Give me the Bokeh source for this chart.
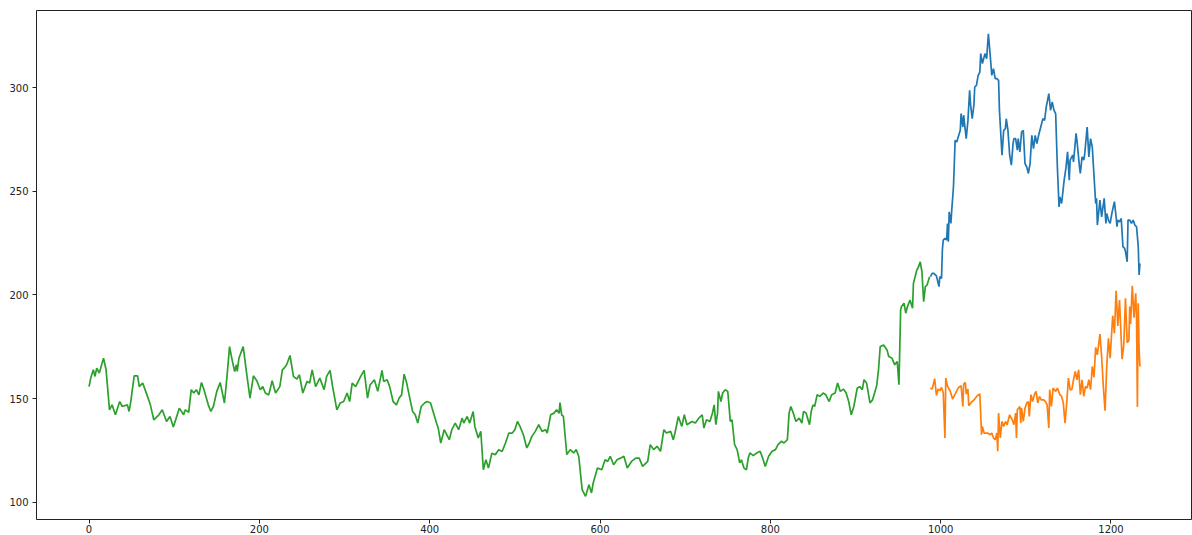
from bokeh.plotting import figure
from bokeh.models import Range1d, FixedTicker
from bokeh.embed import file_html
from bokeh.resources import INLINE

# Closing price used for training (day index, close)
train_idx = [0, 2, 5, 7, 9, 12, 17, 20, 24, 27, 31, 36, 39, 45, 47, 49, 53, 57, 59, 63,
             68, 72, 76, 82, 86, 91, 95, 99, 106, 111, 113, 117, 120, 123, 126, 129, 132, 135, 140, 143,
             146, 150, 154, 159, 162, 165, 168, 171, 173, 174, 176, 181, 183, 185, 189, 193, 197, 201, 204, 207,
             211, 215, 219, 224, 227, 229, 232, 236, 240, 244, 247, 251, 256, 259, 262, 266, 271, 276, 279, 283,
             286, 291, 295, 299, 303, 306, 309, 313, 319, 323, 327, 330, 335, 339, 344, 346, 350, 353, 357, 361,
             364, 367, 370, 373, 377, 380, 383, 386, 390, 394, 397, 401, 404, 408, 410, 413, 417, 420, 423, 426,
             430, 434, 438, 440, 444, 447, 451, 453, 457, 460, 463, 466, 469, 473, 477, 481, 485, 489, 493, 497,
             500, 503, 506, 510, 514, 517, 520, 524, 528, 532, 536, 538, 542, 546, 549, 552, 553, 555, 557, 561,
             565, 569, 572, 575, 579, 583, 587, 590, 592, 597, 602, 606, 609, 612, 616, 620, 624, 628, 632, 637,
             642, 646, 650, 656, 659, 663, 667, 671, 675, 678, 683, 686, 688, 692, 696, 699, 702, 708, 712, 716,
             720, 722, 725, 729, 732, 734, 736, 738, 739, 742, 744, 747, 750, 753, 755, 758, 761, 764, 766, 769,
             772, 774, 776, 780, 784, 788, 791, 794, 798, 802, 806, 809, 813, 816, 820, 822, 824, 827, 830, 834,
             837, 839, 842, 846, 848, 850, 852, 855, 858, 862, 865, 869, 872, 876, 879, 882, 886, 889, 892, 895,
             898, 902, 905, 908, 910, 913, 917, 920, 923, 925, 927, 929, 933, 937, 939, 943, 946, 949, 951, 953,
             954, 957, 959, 961, 964, 967, 968, 970, 972, 974, 976, 978, 980, 982, 984, 987]
train_close = [155.8, 159.9, 163.9, 160.7, 164.7, 162.3, 169.5, 163.9, 144.6, 147.0, 142.2, 148.6, 146.2, 147.0, 143.8, 148.6, 161.0, 161.0, 155.8, 157.5,
               151.8, 147.0, 139.8, 142.2, 144.6, 139.0, 141.4, 136.3, 145.4, 142.2, 144.6, 143.4, 154.3, 152.7, 154.3, 151.8, 157.8, 154.3, 147.0, 143.8,
               146.2, 153.5, 157.8, 147.9, 160.7, 175.1, 168.7, 163.1, 166.3, 163.1, 169.5, 175.1, 168.7, 162.3, 150.2, 161.0, 158.6, 154.3, 155.8, 152.7,
               151.8, 158.6, 152.7, 155.8, 163.9, 164.7, 166.3, 170.8, 160.7, 159.4, 161.5, 152.7, 158.3, 157.5, 163.9, 155.8, 159.9, 154.3, 160.7, 163.6,
               155.8, 144.6, 147.9, 148.6, 152.7, 148.6, 157.5, 155.8, 160.7, 163.6, 150.2, 156.6, 159.1, 153.5, 163.6, 158.3, 159.1, 155.8, 148.6, 147.0,
               150.2, 151.8, 161.8, 157.5, 149.4, 143.8, 142.2, 138.2, 146.2, 147.9, 148.6, 147.9, 143.8, 138.2, 135.8, 128.6, 135.0, 132.6, 130.2, 135.0,
               138.2, 135.0, 140.6, 138.2, 141.4, 138.2, 143.8, 136.6, 131.0, 134.2, 115.7, 120.5, 116.5, 123.7, 122.9, 125.3, 124.5, 128.6, 133.4, 133.4,
               135.0, 139.0, 136.6, 132.6, 126.2, 128.6, 131.8, 134.2, 137.4, 134.2, 135.0, 133.4, 142.2, 143.0, 144.6, 143.0, 148.1, 142.2, 141.4, 123.0,
               125.4, 123.8, 125.4, 122.2, 106.1, 102.9, 108.5, 104.5, 109.3, 116.5, 115.7, 120.5, 119.7, 122.2, 118.1, 120.5, 121.3, 122.2, 116.5, 119.7,
               121.3, 121.3, 117.3, 119.7, 127.8, 125.4, 127.0, 124.6, 135.0, 133.4, 134.2, 130.2, 133.4, 141.4, 136.6, 142.2, 137.4, 139.0, 138.2, 140.6,
               142.2, 135.8, 139.8, 139.0, 143.0, 147.0, 137.4, 143.0, 153.5, 148.6, 152.7, 154.3, 153.5, 139.0, 139.8, 127.8, 125.4, 119.0, 120.5, 116.5,
               115.7, 121.3, 123.8, 122.5, 123.8, 124.6, 121.3, 117.3, 122.2, 124.6, 125.4, 127.8, 129.4, 128.6, 130.2, 143.0, 146.2, 143.0, 139.0, 140.6,
               138.2, 143.8, 143.0, 137.4, 143.8, 147.0, 146.2, 151.9, 151.1, 152.7, 151.9, 148.6, 151.9, 152.7, 157.5, 153.5, 154.6, 152.7, 148.6, 142.2,
               146.2, 155.0, 155.8, 154.3, 159.1, 157.5, 147.9, 149.4, 153.5, 156.6, 163.9, 175.1, 175.9, 173.5, 170.3, 169.5, 166.3, 167.9, 156.7, 192.8,
               194.4, 196.0, 191.2, 194.4, 197.6, 193.6, 205.6, 208.8, 212.0, 213.6, 216.0, 211.2, 196.8, 204.0, 204.8, 208.8]

# Actual closing price over the validation period
valid_idx = [988, 990, 992, 995, 998, 999, 1001, 1002, 1003, 1005, 1007, 1008, 1009, 1010, 1012, 1013, 1015, 1017, 1019, 1020,
             1023, 1024, 1026, 1027, 1028, 1030, 1032, 1034, 1035, 1037, 1039, 1040, 1042, 1044, 1046, 1047, 1049, 1050, 1052, 1054,
             1056, 1058, 1060, 1062, 1064, 1066, 1068, 1069, 1071, 1072, 1074, 1076, 1077, 1079, 1081, 1083, 1085, 1086, 1088, 1090,
             1091, 1093, 1095, 1097, 1099, 1101, 1103, 1105, 1107, 1109, 1111, 1113, 1115, 1117, 1120, 1122, 1124, 1127, 1129, 1131,
             1133, 1135, 1137, 1139, 1140, 1142, 1145, 1147, 1149, 1151, 1152, 1155, 1156, 1159, 1160, 1163, 1164, 1166, 1168, 1169,
             1172, 1174, 1176, 1178, 1182, 1183, 1184, 1187, 1189, 1192, 1194, 1195, 1197, 1199, 1201, 1204, 1206, 1207, 1208, 1210,
             1212, 1214, 1216, 1217, 1219, 1220, 1222, 1224, 1226, 1228, 1230, 1232, 1233, 1234]
valid_close = [208.8, 210.4, 210.4, 209.2, 204.0, 208.8, 208.0, 221.7, 226.5, 227.3, 226.5, 234.5, 225.7, 240.1, 234.5, 240.9, 252.1, 274.6, 273.8, 275.4,
               279.4, 287.5, 281.0, 286.7, 282.6, 275.4, 284.2, 298.7, 292.3, 285.0, 291.5, 300.3, 301.1, 305.9, 307.5, 316.4, 311.6, 313.2, 316.4, 314.0,
               326.0, 316.4, 305.9, 309.1, 304.3, 304.3, 303.5, 289.1, 274.6, 267.4, 279.4, 280.2, 285.0, 279.4, 267.4, 262.6, 273.0, 275.4, 275.4, 269.8,
               275.4, 269.0, 278.6, 279.4, 263.4, 261.8, 258.6, 263.4, 277.0, 270.6, 277.0, 273.0, 277.0, 280.2, 285.0, 284.2, 290.7, 297.1, 289.1, 293.1,
               289.1, 287.5, 262.0, 242.5, 247.3, 244.1, 255.4, 261.0, 269.0, 255.4, 265.0, 267.4, 264.2, 277.9, 274.6, 261.8, 258.6, 266.6, 265.0, 267.4,
               281.0, 266.6, 275.4, 271.4, 244.1, 246.6, 233.7, 245.7, 237.7, 246.6, 234.5, 239.3, 236.1, 234.5, 239.3, 245.0, 237.7, 232.9, 236.1, 235.3,
               236.9, 223.3, 222.5, 220.9, 216.0, 236.1, 236.1, 234.5, 236.1, 233.7, 232.9, 223.3, 209.6, 215.2]

# Model predictions over the validation period
pred_idx = [988, 990, 993, 995, 997, 999, 1001, 1003, 1005, 1006, 1008, 1011, 1014, 1016, 1018, 1021, 1024, 1026, 1027, 1029,
            1030, 1032, 1033, 1036, 1040, 1043, 1046, 1048, 1049, 1051, 1055, 1058, 1060, 1062, 1064, 1066, 1067, 1068, 1070, 1072,
            1074, 1076, 1078, 1081, 1084, 1086, 1088, 1089, 1090, 1093, 1094, 1095, 1097, 1099, 1101, 1103, 1104, 1106, 1108, 1110,
            1112, 1114, 1116, 1118, 1121, 1123, 1125, 1127, 1128, 1130, 1132, 1135, 1137, 1140, 1142, 1144, 1146, 1148, 1150, 1152,
            1154, 1156, 1158, 1160, 1162, 1164, 1166, 1168, 1170, 1172, 1174, 1176, 1178, 1180, 1182, 1184, 1187, 1189, 1191, 1193,
            1195, 1197, 1199, 1202, 1204, 1206, 1208, 1210, 1213, 1215, 1217, 1219, 1221, 1222, 1223, 1225, 1227, 1229, 1230, 1231,
            1232, 1233, 1234]
pred_close = [155.1, 154.6, 159.6, 151.5, 154.6, 153.8, 155.4, 153.0, 131.0, 159.9, 156.0, 153.8, 149.8, 151.4, 153.0, 155.4, 156.2, 146.2, 157.0, 157.8,
              152.2, 154.6, 146.6, 148.2, 149.8, 151.4, 152.2, 132.6, 136.6, 133.4, 133.4, 132.6, 133.4, 131.0, 130.2, 133.4, 124.6, 143.0, 131.0, 139.0,
              136.6, 139.0, 137.4, 142.2, 139.8, 137.4, 143.0, 131.0, 144.6, 146.2, 138.2, 145.4, 139.0, 145.4, 147.9, 148.6, 141.4, 151.9, 148.6, 151.9,
              153.5, 147.9, 151.1, 149.4, 149.4, 148.6, 147.0, 135.8, 154.3, 146.2, 155.1, 153.5, 155.1, 151.9, 151.1, 147.9, 138.2, 147.9, 159.9, 154.3,
              154.3, 159.1, 163.1, 159.1, 163.9, 151.9, 159.1, 151.1, 155.9, 155.1, 159.1, 154.3, 165.5, 160.3, 174.7, 171.1, 181.1, 170.3, 155.8, 144.2,
              165.5, 179.1, 169.5, 190.0, 181.5, 202.0, 185.0, 197.6, 169.0, 176.0, 198.4, 177.0, 178.0, 194.4, 186.0, 204.4, 189.0, 200.8, 189.0, 146.0,
              196.0, 173.5, 165.5]

x_ticks = [0, 200, 400, 600, 800, 1000, 1200]
y_ticks = [100, 150, 200, 250, 300]

p = figure(width=1192, height=535, output_backend="svg", toolbar_location=None,
           x_range=Range1d(-61.7, 1295.7), y_range=Range1d(91.7, 337.2),
           min_border_left=36, min_border_right=0, min_border_top=10, min_border_bottom=15)

p.background_fill_color = "white"
p.border_fill_color = "white"
p.outline_line_color = "#222222"
p.outline_line_width = 1
p.xgrid.visible = False
p.ygrid.visible = False

p.line(valid_idx, valid_close, line_color="#1f77b4", line_width=1.7)
p.line(pred_idx, pred_close, line_color="#ff7f0e", line_width=1.7)
p.line(train_idx, train_close, line_color="#2ca02c", line_width=1.7)

for ax, ticks in ((p.xaxis[0], x_ticks), (p.yaxis[0], y_ticks)):
    ax.ticker = FixedTicker(ticks=ticks)
    ax.axis_line_color = None
    ax.minor_tick_line_color = None
    ax.major_tick_in = 0
    ax.major_tick_out = 4
    ax.major_tick_line_color = "#222222"
    ax.major_label_text_font = "DejaVu Sans"
    ax.major_label_text_font_size = "10px"
    ax.major_label_text_color = "#222222"

p.xaxis[0].major_label_standoff = 1
p.yaxis[0].major_label_standoff = 4

open("out.html", "w").write(file_html(p, INLINE))
